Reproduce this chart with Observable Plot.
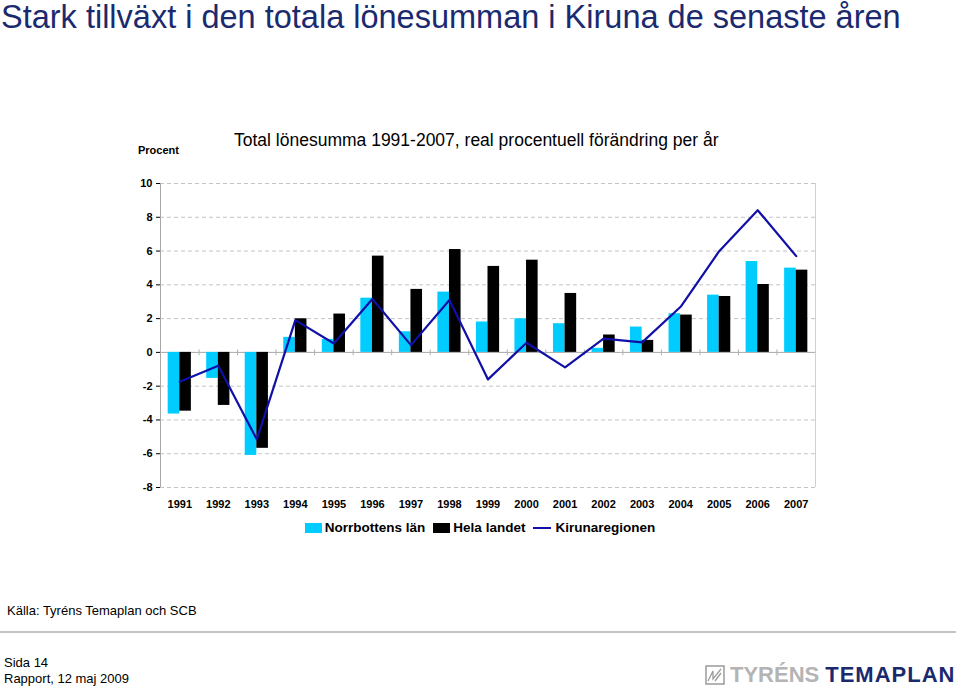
<!DOCTYPE html>
<html>
<head>
<meta charset="utf-8">
<script src="https://cdn.jsdelivr.net/npm/d3@7"></script>
<script src="https://cdn.jsdelivr.net/npm/@observablehq/plot@0.6"></script>
<style>
  html, body { margin: 0; padding: 0; background: #fff; }
  #page { position: relative; width: 960px; height: 686px; overflow: hidden; font-family: "Liberation Sans", Arial, sans-serif; color: #000; }
  .abs { position: absolute; white-space: nowrap; }
  #title { left: 1px; top: 0px; font-size: 32.5px; color: #1b2a6e; line-height: 34px; }
  #subtitle { left: 234px; top: 129px; font-size: 17.5px; line-height: 22px; }
  #procent { left: 138px; top: 143px; font-size: 11px; font-weight: bold; line-height: 14px; }
  #chart { left: 0; top: 160px; }
  #legend { left: 0; top: 519px; width: 960px; display: flex; justify-content: center; align-items: center; font-size: 13.5px; font-weight: bold; line-height: 18px; }
  #legend .item { display: flex; align-items: center; margin: 0 4px; }
  #legend .sw { width: 17px; height: 10px; margin-right: 3px; }
  #legend .ln { width: 18px; height: 2px; margin-right: 4px; }
  #source { left: 7px; top: 603px; font-size: 13px; line-height: 16px; }
  #rule { left: 0; top: 631px; width: 956px; height: 2px; background: #c4c4c4; }
  #sida { left: 4px; top: 655px; font-size: 13px; line-height: 16px; }
  #rapport { left: 4px; top: 671px; font-size: 13px; line-height: 16px; }
  #logo { left: 705px; top: 662px; height: 26px; display: flex; align-items: center; font-family: "Liberation Sans", Arial, sans-serif; font-weight: bold; font-size: 22px; }
</style>
</head>
<body>
<div id="page">
  <div id="title" class="abs">Stark tillväxt i den totala lönesumman i Kiruna de senaste åren</div>
  <div id="procent" class="abs">Procent</div>
  <div id="subtitle" class="abs">Total lönesumma 1991-2007, real procentuell förändring per år</div>
  <div id="chart" class="abs"></div>
  <div id="legend" class="abs"></div>
  <div id="source" class="abs">Källa: Tyréns Temaplan och SCB</div>
  <div id="rule" class="abs"></div>
  <div id="sida" class="abs">Sida 14</div>
  <div id="rapport" class="abs">Rapport, 12 maj 2009</div>
  <div id="logo" class="abs">
    <svg width="20" height="20" viewBox="0 0 20 20" style="margin-right:5px">
      <rect x="1" y="1" width="18" height="18" fill="none" stroke="#9a9a9a" stroke-width="1.5"/>
      <path d="M3 16 L8 6 L8 14 L16 4 M10 16 L16 8" fill="none" stroke="#9a9a9a" stroke-width="1.3"/>
    </svg>
    <span style="color:#b4b4b4">TYRÉNS</span><span style="color:#1b2a6e; margin-left:6px; letter-spacing:1px">TEMAPLAN</span>
  </div>
</div>
<script>
// ---- Data ----
const years = ["1991","1992","1993","1994","1995","1996","1997","1998","1999","2000","2001","2002","2003","2004","2005","2006","2007"];
const norrbottensLan = [-3.65, -1.54, -6.10, 0.89, 0.77, 3.21, 1.22, 3.57, 1.80, 1.99, 1.70, 0.24, 1.50, 2.29, 3.39, 5.38, 4.99];
const helaLandet = [-3.48, -3.14, -5.68, 1.99, 2.27, 5.70, 3.73, 6.09, 5.09, 5.46, 3.49, 1.03, 0.71, 2.21, 3.31, 4.02, 4.87];
const kirunaregionen = [-1.74, -0.79, -5.15, 1.91, 0.53, 3.16, 0.43, 3.10, -1.60, 0.57, -0.89, 0.81, 0.59, 2.70, 5.99, 8.42, 5.70];
const yTicks = [-8, -6, -4, -2, 0, 2, 4, 6, 8, 10];
const seriesNames = ["Norrbottens län", "Hela landet", "Kirunaregionen"];
const colors = ["#00ccff", "#000000", "#1010a8"];

const rows = years.map((year, i) => ({
  year,
  norr: norrbottensLan[i],
  hela: helaLandet[i],
  kir: kirunaregionen[i]
}));

// ---- Layout ----
const W = 960, H = 370;
const mL = 160, mR = 145, mT = 23, mB = 43;
const bw = (W - mL - mR) / years.length;
const barW = 11.6;

const gridVals = yTicks.filter(d => d !== 0);

const chart = Plot.plot({
  width: W,
  height: H,
  marginLeft: mL,
  marginRight: mR,
  marginTop: mT,
  marginBottom: mB,
  style: { fontFamily: "'Liberation Sans', Arial, sans-serif", fontSize: "11px", fontWeight: "bold", color: "#000", background: "white" },
  x: { type: "band", domain: years, padding: 0, round: false, tickSize: 0, tickPadding: 13, label: null, tickFormat: d => d },
  y: { domain: [-8, 10], ticks: yTicks, tickSize: 4, tickPadding: 4, label: null, tickFormat: d => String(d) },
  marks: [
    Plot.ruleY(gridVals, { stroke: "#c4c4c4", strokeDasharray: "4,3", strokeWidth: 1 }),
    Plot.ruleY([0], { stroke: "#a8a8a8", strokeWidth: 1 }),
    // left and right border lines
    Plot.ruleX([years[0]], { y1: -8, y2: 10, dx: -bw / 2, stroke: "#a8a8a8" }),
    Plot.ruleX([years[years.length - 1]], { y1: -8, y2: 10, dx: bw / 2, stroke: "#d0d0d0" }),
    // category tick marks on the zero line
    Plot.ruleX(years.slice(1), { y1: -0.2, y2: 0.15, dx: -bw / 2, stroke: "#b0b0b0" }),
    Plot.barY(rows, { x: "year", y: "norr", fill: colors[0], insetLeft: bw / 2 - barW, insetRight: bw / 2 }),
    Plot.barY(rows, { x: "year", y: "hela", fill: colors[1], insetLeft: bw / 2, insetRight: bw / 2 - barW }),
    Plot.line(rows, { x: "year", y: "kir", stroke: colors[2], strokeWidth: 2.2 })
  ]
});
document.getElementById("chart").appendChild(chart);

// ---- Legend ----
const legend = document.getElementById("legend");
seriesNames.forEach((name, i) => {
  const item = document.createElement("div");
  item.className = "item";
  const sw = document.createElement("div");
  sw.className = i < 2 ? "sw" : "ln";
  sw.style.background = colors[i];
  item.appendChild(sw);
  const t = document.createElement("span");
  t.textContent = name;
  item.appendChild(t);
  legend.appendChild(item);
});
</script>
</body>
</html>
